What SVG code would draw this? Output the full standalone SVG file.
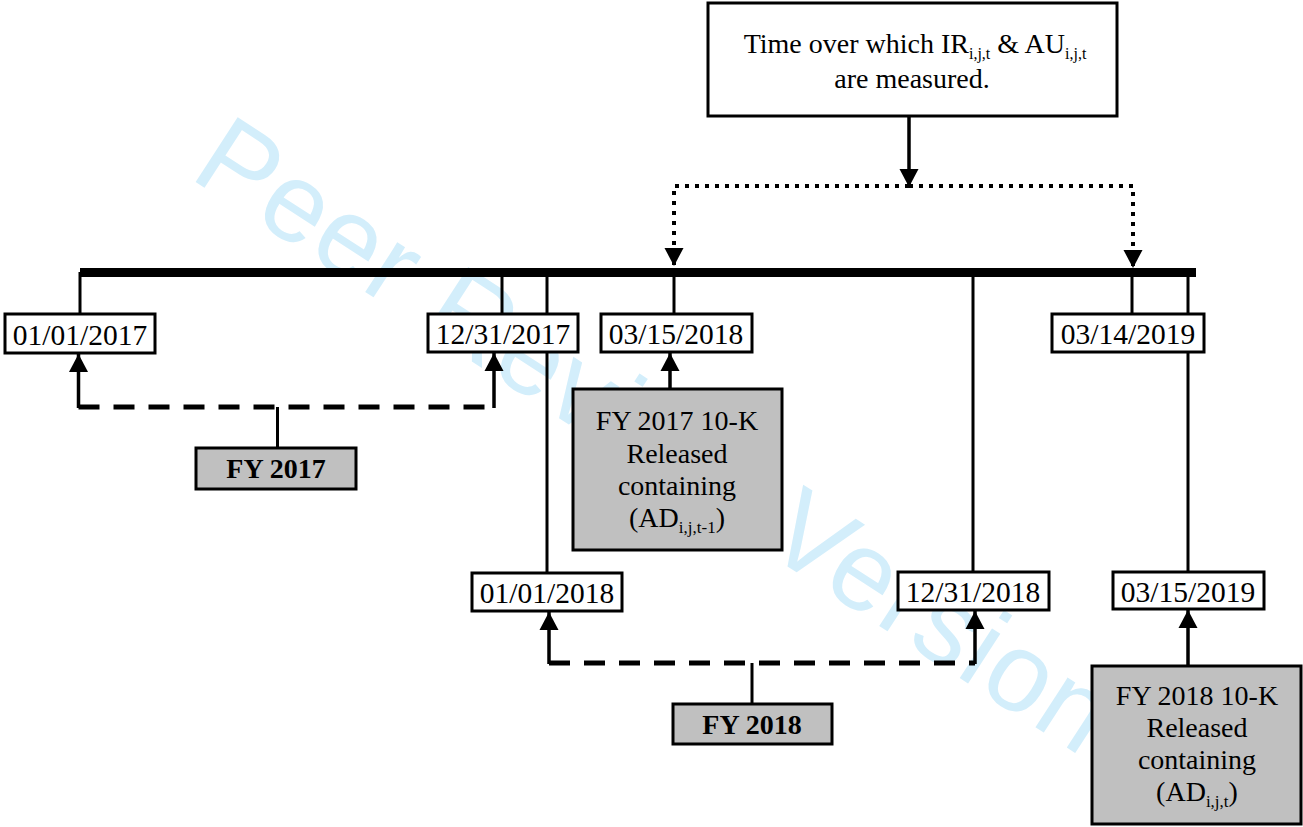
<svg xmlns="http://www.w3.org/2000/svg" width="1303" height="827" viewBox="0 0 1303 827">
<style>
  .t { font-family: "Liberation Serif", "Times New Roman", serif; font-size: 28px; fill: #000; text-anchor: middle; }
  .d { font-size: 29.5px; }
  .b { font-weight: bold; }
  .sub { font-size: 17px; }
  .sub2 { font-size: 16px; }
  .box { fill: #fff; stroke: #000; stroke-width: 3; }
  .gbox { fill: #c0c0c0; stroke: #000; stroke-width: 3; }
  .ln { stroke: #000; stroke-width: 3; fill: none; }
  .arr { stroke: #000; stroke-width: 3.5; fill: none; marker-end: url(#ah); }
  .dash { stroke: #000; stroke-width: 5; fill: none; stroke-dasharray: 21 14; }
  .dot { stroke: #000; stroke-width: 4; fill: none; stroke-dasharray: 4 6; marker-end: url(#ah); }
  .wm { font-family: "Liberation Sans", Arial, sans-serif; font-size: 112px; fill: #d3eefb; }
</style>
<defs>
  <marker id="ah" markerUnits="userSpaceOnUse" markerWidth="19" markerHeight="19" refX="18" refY="9.5" orient="auto" overflow="visible">
    <path d="M0,0 L18,9.5 L0,19 z" fill="#000"/>
  </marker>
</defs>
<rect width="1303" height="827" fill="#fff"/>
<text class="wm" x="188" y="177" transform="rotate(33 188 177)" textLength="1065" lengthAdjust="spacing">Peer Review Version</text>

<g id="connectors">
  <!-- main timeline bar -->
  <rect x="80" y="268" width="1116" height="9" fill="#000"/>
  <!-- ticks -->
  <line class="ln" x1="80" y1="272" x2="80" y2="315"/>
  <line class="ln" x1="502" y1="272" x2="502" y2="314"/>
  <line class="ln" x1="547" y1="272" x2="547" y2="573"/>
  <line class="ln" x1="674" y1="272" x2="674" y2="314"/>
  <line class="ln" x1="973" y1="272" x2="973" y2="572"/>
  <line class="ln" x1="1132" y1="272" x2="1132" y2="314"/>
  <line class="ln" x1="1188" y1="272" x2="1188" y2="572"/>
  <!-- top arrow and dotted bracket -->
  <path class="arr" d="M909,116 V187"/>
  <path class="dot" d="M909,186 H674 V266"/>
  <path class="dot" d="M909,186 H1133 V268"/>
  <!-- FY 2017 bracket -->
  <path class="dash" d="M78.5,407 H494"/>
  <path class="arr" d="M78.5,408 V354"/>
  <path class="arr" d="M494,408 V353"/>
  <line class="ln" x1="277.5" y1="407" x2="277.5" y2="448"/>
  <!-- 10-K 2017 arrow -->
  <path class="arr" d="M670,389 V353"/>
  <!-- FY 2018 bracket -->
  <path class="dash" d="M549,663 H975"/>
  <path class="arr" d="M549,664 V612"/>
  <path class="arr" d="M975,664 V611"/>
  <line class="ln" x1="752" y1="663" x2="752" y2="704"/>
  <!-- 10-K 2018 arrow -->
  <path class="arr" d="M1188,666 V610"/>
</g>

<g id="measure">
  <rect class="box" x="708" y="3" width="409" height="113"/>
  <text class="t" x="915" y="53">Time over which IR<tspan class="sub2" dy="6">i,j,t</tspan><tspan dy="-6"> &amp; AU</tspan><tspan class="sub2" dy="6">i,j,t</tspan></text>
  <text class="t" x="912" y="88">are measured.</text>
</g>

<g id="d-20170101">
  <rect class="box" x="5" y="314" width="150" height="39"/>
  <text class="t d" x="80" y="345">01/01/2017</text>
</g>
<g id="d-20171231">
  <rect class="box" x="428" y="314" width="150" height="38"/>
  <text class="t d" x="503" y="344">12/31/2017</text>
</g>
<g id="d-20180315">
  <rect class="box" x="601" y="314" width="151" height="38"/>
  <text class="t d" x="676" y="344">03/15/2018</text>
</g>
<g id="d-20190314">
  <rect class="box" x="1052" y="314" width="152" height="38"/>
  <text class="t d" x="1128" y="344">03/14/2019</text>
</g>
<g id="d-20180101">
  <rect class="box" x="472" y="573" width="150" height="38"/>
  <text class="t d" x="547" y="603">01/01/2018</text>
</g>
<g id="d-20181231">
  <rect class="box" x="898" y="572" width="151" height="38"/>
  <text class="t d" x="973" y="602">12/31/2018</text>
</g>
<g id="d-20190315">
  <rect class="box" x="1113" y="572" width="151" height="37"/>
  <text class="t d" x="1188" y="602">03/15/2019</text>
</g>

<g id="fy2017">
  <rect class="gbox" x="196" y="448" width="160" height="41"/>
  <text class="t b" x="276" y="478">FY 2017</text>
</g>
<g id="fy2018">
  <rect class="gbox" x="673" y="704" width="159" height="40"/>
  <text class="t b" x="752" y="734">FY 2018</text>
</g>

<g id="k2017">
  <rect class="gbox" x="573" y="389" width="209" height="161"/>
  <text class="t" x="677" y="430">FY 2017 10-K</text>
  <text class="t" x="677" y="463">Released</text>
  <text class="t" x="677" y="495">containing</text>
  <text class="t" x="677" y="527">(AD<tspan class="sub" dy="6">i,j,t-1</tspan><tspan dy="-6">)</tspan></text>
</g>
<g id="k2018">
  <rect class="gbox" x="1092" y="666" width="209" height="158"/>
  <text class="t" x="1197" y="705">FY 2018 10-K</text>
  <text class="t" x="1197" y="737">Released</text>
  <text class="t" x="1197" y="769">containing</text>
  <text class="t" x="1197" y="801">(AD<tspan class="sub" dy="6">i,j,t</tspan><tspan dy="-6">)</tspan></text>
</g>
</svg>
